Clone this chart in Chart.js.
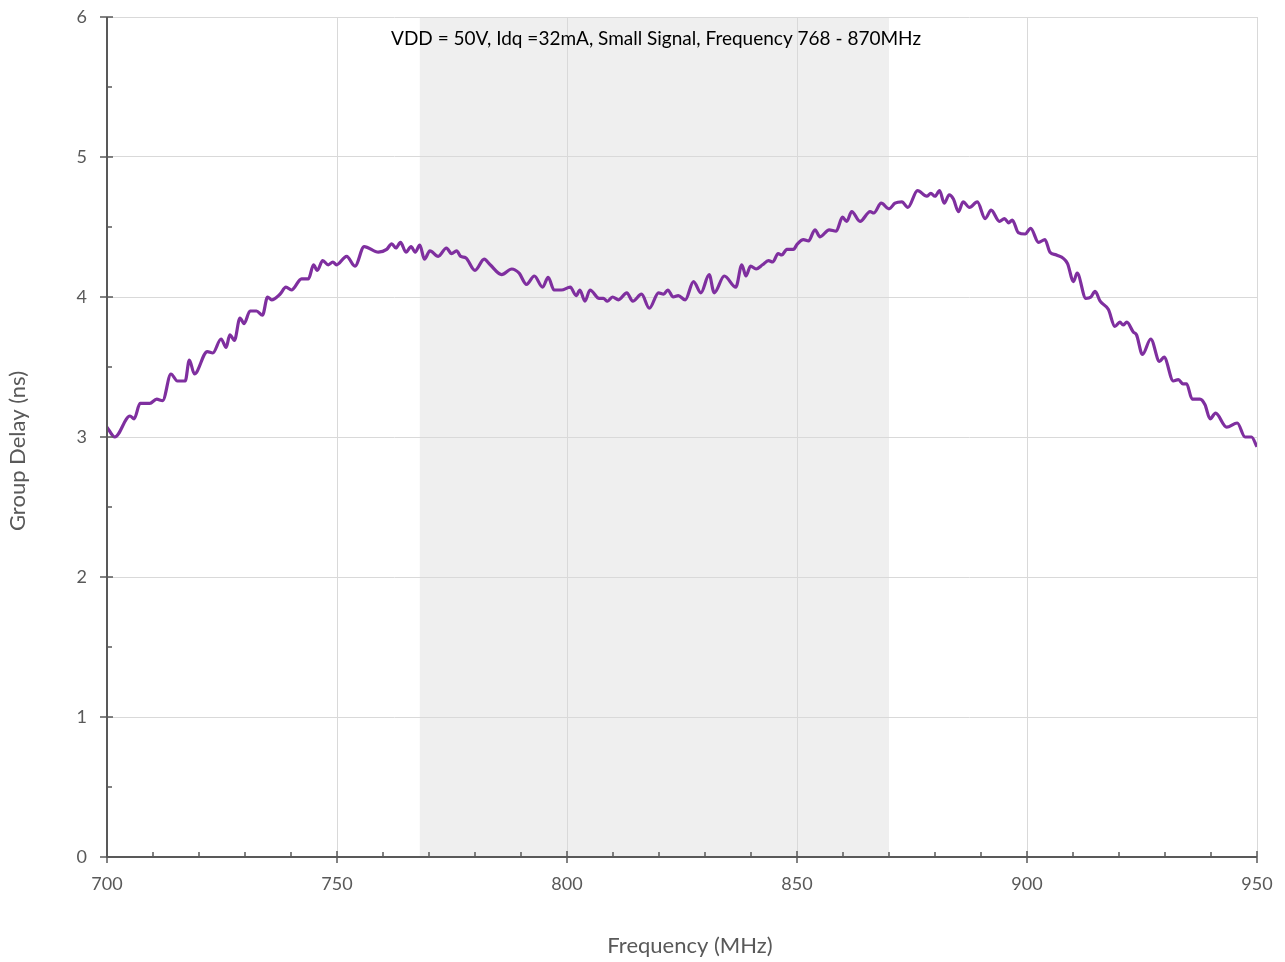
<!DOCTYPE html>
<html>
<head>
<meta charset="utf-8">
<script src="https://cdn.jsdelivr.net/npm/chart.js@4/dist/chart.umd.min.js"></script>
<style>
  html, body { margin: 0; padding: 0; background: #ffffff; }
  #wrap { width: 1285px; height: 962px; }
</style>
</head>
<body>
<div id="wrap"><canvas id="chart" width="1285" height="962"></canvas></div>
<script>
// Measured group delay versus frequency
const frequencyMHz = [
  700, 701.7, 705, 705.9, 707.2, 709.3, 710.8, 712.1, 713.9, 715.3, 717, 717.9, 719,
  721.8, 723, 724.8, 725.9, 726.7, 727.7, 728.9, 729.8, 731.1, 732.5, 733.8, 734.9,
  735.8, 737.6, 738.9, 740.1, 742.3, 743.8, 744.9, 745.7, 746.9, 748.1, 749.1, 749.9,
  752.1, 753.9, 755.9, 759, 760.8, 761.9, 762.8, 763.8, 765, 766.1, 767, 768, 769,
  770.2, 772, 773.8, 774.9, 776, 776.9, 778, 780, 782, 783.3, 785.8, 788, 789.6,
  791.2, 792.9, 794.7, 795.9, 797.2, 798.8, 800.7, 802, 802.8, 803.9, 805, 807,
  807.9, 808.8, 809.9, 811.2, 813, 814.3, 816.2, 817.9, 819.9, 821, 821.9, 823.1,
  824.2, 825.7, 827.5, 829.1, 830.9, 832, 834.2, 836.7, 838, 838.9, 839.9, 841.1,
  842.5, 843.8, 844.7, 845.9, 846.7, 847.8, 849.2, 850.1, 851.4, 852.5, 853.9, 855,
  857, 858.5, 859.9, 860.8, 861.9, 863.7, 865.9, 866.7, 868.3, 870, 871.3, 872.8,
  874.1, 876.2, 878.2, 879.1, 880, 881, 882, 883.1, 884, 885.1, 886.1, 887.5, 889.2,
  890.9, 892.2, 894, 895.1, 896, 896.8, 898.1, 899.6, 900.8, 902.5, 903.9, 905,
  906.4, 908.8, 910.1, 910.9, 912.8, 913.9, 914.8, 915.9, 917.7, 919.1, 920.2,
  920.9, 921.7, 923.1, 923.8, 925.1, 926.9, 928.8, 929.8, 931.8, 932.9, 933.9,
  934.7, 935.9, 937.6, 938.7, 939.8, 941, 943.4, 945.7, 947.4, 948.8, 950
];
const groupDelayNs = [
  3.07, 3.00, 3.15, 3.13, 3.24, 3.24, 3.27, 3.26, 3.45, 3.40, 3.40, 3.55, 3.45,
  3.61, 3.60, 3.70, 3.64, 3.73, 3.69, 3.85, 3.81, 3.90, 3.90, 3.87, 4.00,
  3.98, 4.02, 4.07, 4.05, 4.13, 4.13, 4.23, 4.19, 4.26, 4.23, 4.25, 4.23,
  4.29, 4.22, 4.36, 4.32, 4.34, 4.38, 4.35, 4.39, 4.32, 4.36, 4.32, 4.37, 4.27,
  4.33, 4.29, 4.35, 4.31, 4.33, 4.29, 4.28, 4.19, 4.27, 4.23, 4.16, 4.20, 4.17,
  4.09, 4.15, 4.07, 4.14, 4.05, 4.05, 4.07, 4.01, 4.05, 3.97, 4.05, 3.99,
  3.99, 3.97, 4.00, 3.98, 4.03, 3.97, 4.02, 3.92, 4.03, 4.02, 4.05, 4.00,
  4.01, 3.98, 4.11, 4.03, 4.16, 4.03, 4.15, 4.07, 4.23, 4.15, 4.22, 4.20,
  4.23, 4.26, 4.25, 4.31, 4.30, 4.34, 4.34, 4.38, 4.41, 4.40, 4.48, 4.43,
  4.48, 4.47, 4.57, 4.54, 4.61, 4.54, 4.61, 4.60, 4.67, 4.63, 4.67, 4.68,
  4.64, 4.76, 4.72, 4.74, 4.72, 4.76, 4.67, 4.73, 4.70, 4.61, 4.68, 4.64, 4.68,
  4.56, 4.62, 4.54, 4.56, 4.53, 4.55, 4.46, 4.45, 4.49, 4.39, 4.41, 4.32,
  4.30, 4.24, 4.11, 4.17, 3.99, 4.00, 4.04, 3.97, 3.91, 3.79, 3.82,
  3.80, 3.82, 3.75, 3.73, 3.59, 3.70, 3.54, 3.57, 3.40, 3.41, 3.38,
  3.38, 3.27, 3.27, 3.23, 3.13, 3.17, 3.07, 3.10, 3.00, 3.00, 2.93
];

// Operating band shown as a shaded region
const operatingBand = [768, 870];
const titleText = 'VDD = 50V, Idq =32mA, Small Signal, Frequency 768 - 870MHz';
const xTitle = 'Frequency (MHz)';
const yTitle = 'Group Delay (ns)';

// Axis tick values
const xMajorTicks = [700, 750, 800, 850, 900, 950];
const xMinorTicks = [710, 720, 730, 740, 760, 770, 780, 790, 810, 820, 830, 840, 860, 870, 880, 890, 910, 920, 930, 940];
const yMajorTicks = [0, 1, 2, 3, 4, 5, 6];
const yMinorTicks = [0.5, 1.5, 2.5, 3.5, 4.5, 5.5];

const FONT = 'Lato, "Open Sans", "DejaVu Sans", sans-serif';
const AXIS_COLOR = '#595959';
const GRID_COLOR = '#d9d9d9';

const points = frequencyMHz.map((f, i) => ({ x: f, y: groupDelayNs[i] }));

// Scales keep no extra label margins; the layout padding sets the plot box.
function clearScalePadding(scale) {
  scale.paddingTop = 0;
  scale.paddingBottom = 0;
  scale.paddingLeft = 0;
  scale.paddingRight = 0;
}

const bandPlugin = {
  id: 'bandShade',
  beforeDraw(chart) {
    const { ctx, chartArea, scales } = chart;
    const x0 = scales.x.getPixelForValue(operatingBand[0]);
    const x1 = scales.x.getPixelForValue(operatingBand[1]);
    ctx.save();
    ctx.fillStyle = '#efefef';
    ctx.fillRect(x0, chartArea.top, x1 - x0, chartArea.bottom - chartArea.top);
    ctx.restore();
  }
};

const axesPlugin = {
  id: 'axisLinesAndTicks',
  afterDatasetsDraw(chart) {
    const { ctx, chartArea, scales } = chart;
    const xs = scales.x, ys = scales.y;
    const axisY = ys.getPixelForValue(0);
    const axisX = xs.getPixelForValue(700);
    ctx.save();
    ctx.strokeStyle = AXIS_COLOR;
    ctx.lineWidth = 2;
    ctx.beginPath();
    ctx.moveTo(axisX, chartArea.top);
    ctx.lineTo(axisX, axisY);
    ctx.lineTo(chartArea.right, axisY);
    ctx.stroke();
    ctx.lineWidth = 1.5;
    ctx.beginPath();
    xMajorTicks.forEach(v => {
      const p = Math.round(xs.getPixelForValue(v));
      ctx.moveTo(p, axisY - 6); ctx.lineTo(p, axisY + 6);
    });
    xMinorTicks.forEach(v => {
      const p = Math.round(xs.getPixelForValue(v));
      ctx.moveTo(p, axisY - 5); ctx.lineTo(p, axisY);
    });
    yMajorTicks.forEach(v => {
      const p = Math.round(ys.getPixelForValue(v));
      ctx.moveTo(axisX - 7, p); ctx.lineTo(axisX + 6, p);
    });
    yMinorTicks.forEach(v => {
      const p = Math.round(ys.getPixelForValue(v));
      ctx.moveTo(axisX, p); ctx.lineTo(axisX + 5, p);
    });
    ctx.stroke();
    ctx.restore();
  },
  afterDraw(chart) {
    const { ctx } = chart;
    ctx.save();
    ctx.textAlign = 'center';
    ctx.textBaseline = 'middle';
    // caption inside the plot
    ctx.fillStyle = '#000000';
    ctx.font = '19px ' + FONT;
    ctx.fillText(titleText, 656, 39);
    // axis titles
    ctx.fillStyle = AXIS_COLOR;
    ctx.font = '22px ' + FONT;
    ctx.fillText(xTitle, 690, 946);
    ctx.translate(18, 451);
    ctx.rotate(-Math.PI / 2);
    ctx.fillText(yTitle, 0, 0);
    ctx.restore();
  }
};

new Chart(document.getElementById('chart'), {
  type: 'line',
  data: {
    datasets: [{
      data: points,
      borderColor: '#7f2f9f',
      borderWidth: 3.2,
      pointRadius: 0,
      tension: 0.4,
      cubicInterpolationMode: 'monotone',
      fill: false
    }]
  },
  plugins: [bandPlugin, axesPlugin],
  options: {
    responsive: false,
    animation: false,
    layout: { padding: { left: 0, top: 17, right: 28, bottom: 0 } },
    plugins: { legend: { display: false }, tooltip: { enabled: false }, title: { display: false } },
    scales: {
      x: {
        type: 'linear',
        min: 700, max: 950,
        afterBuildTicks(scale) { scale.ticks = xMajorTicks.map(v => ({ value: v })); },
        afterFit(scale) { scale.height = 105; clearScalePadding(scale); },
        border: { display: false },
        grid: { color: GRID_COLOR, lineWidth: 1, drawTicks: false },
        ticks: { color: AXIS_COLOR, font: { family: FONT, size: 18 }, padding: 16, maxRotation: 0 },
        title: { display: false }
      },
      y: {
        type: 'linear',
        min: 0, max: 6,
        afterBuildTicks(scale) { scale.ticks = yMajorTicks.map(v => ({ value: v })); },
        afterFit(scale) { scale.width = 107; clearScalePadding(scale); },
        border: { display: false },
        grid: { color: GRID_COLOR, lineWidth: 1, drawTicks: false },
        ticks: { color: AXIS_COLOR, font: { family: FONT, size: 18 }, padding: 20 },
        title: { display: false }
      }
    }
  }
});
</script>
</body>
</html>
